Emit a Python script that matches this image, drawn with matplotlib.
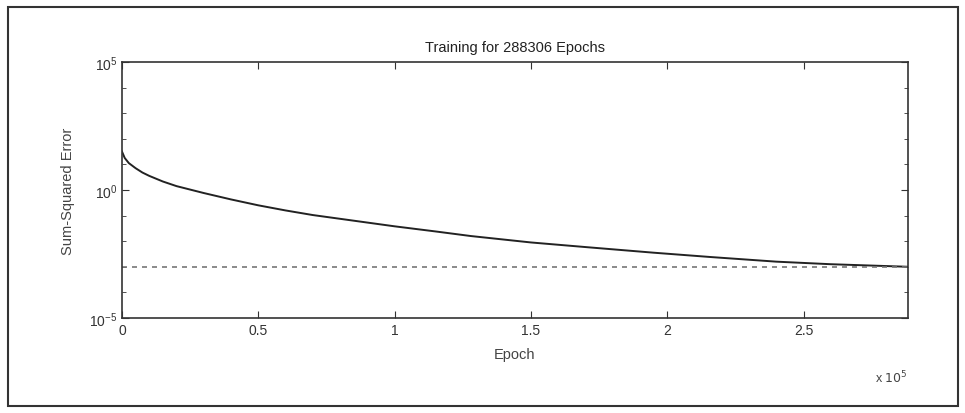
import numpy as np
import matplotlib
matplotlib.use('Agg')
import matplotlib.pyplot as plt
from matplotlib.patches import Rectangle
from matplotlib.ticker import FixedLocator, NullFormatter

# 값
epochs = [0, 1000, 2500, 5000, 7500, 10000, 15000, 20000, 30000, 40000, 50000,
          60000, 70000, 85000, 100000, 115000, 128000, 150000, 170000,
          195000, 216000, 240000, 260000, 288306]
log_sse = [1.5, 1.25, 1.05, 0.85, 0.68, 0.55, 0.33, 0.15, -0.12, -0.37, -0.6,
           -0.8, -0.98, -1.2, -1.42, -1.62, -1.8, -2.05, -2.23,
           -2.45, -2.62, -2.8, -2.9, -3.0]
sse = [10 ** v for v in log_sse]
goal = 1e-3
total_epochs = 288306

plt.rcParams['font.family'] = ['Liberation Sans', 'DejaVu Sans']

fig = plt.figure(figsize=(9.65, 4.14), dpi=100)
ax = fig.add_axes([0.1264, 0.2295, 0.8145, 0.6185])

ax.semilogy(epochs, sse, color='#222222', linewidth=1.4)
ax.semilogy([0, total_epochs], [goal, goal], color='#777777',
            linestyle=(0, (3, 3)), linewidth=1.2)

ax.set_xlim(0, total_epochs)
ax.set_ylim(1e-5, 1e5)
ax.yaxis.set_major_locator(FixedLocator([1e-5, 1e0, 1e5]))
ax.yaxis.set_minor_locator(FixedLocator([10.0 ** k for k in range(-5, 6)]))
ax.yaxis.set_minor_formatter(NullFormatter())
ax.set_xticks([0, 50000, 100000, 150000, 200000, 250000])
ax.set_xticklabels(['0', '0.5', '1', '1.5', '2', '2.5'])

ax.tick_params(which='both', direction='in', top=True, right=True,
               labelsize=10, colors='#333333')
ax.tick_params(which='major', length=5)
ax.tick_params(which='minor', length=3)
for s in ax.spines.values():
    s.set_color('#333333')
    s.set_linewidth(1.2)

ax.set_title('Training for 288306 Epochs', fontsize=10.5, color='#222222', pad=8)
ax.set_xlabel('Epoch', fontsize=10.5, color='#444444', labelpad=7)
ax.set_ylabel('Sum-Squared Error', fontsize=10.5, color='#444444', labelpad=10)
fig.text(0.941, 0.087, r'x $10^5$', fontsize=9, color='#444444',
         ha='right', va='center')

# 바깥 테두리
fig.patches.append(Rectangle((8 / 965, 7 / 414), 950 / 965, 399 / 414,
                             transform=fig.transFigure, fill=False,
                             edgecolor='#333333', linewidth=1.5))

fig.savefig('out.png', dpi=100)
